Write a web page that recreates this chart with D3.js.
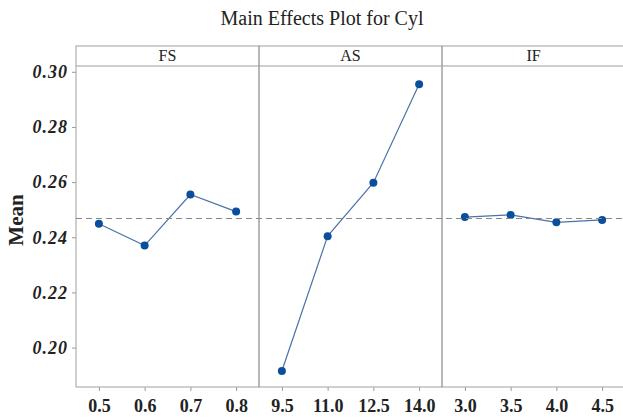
<!DOCTYPE html>
<html>
<head>
<meta charset="utf-8">
<script src="https://cdn.jsdelivr.net/npm/d3@7"></script>
<style>
  body { margin: 0; background: #fff; }
  svg { display: block; }
  svg text { font-family: "Liberation Serif", "DejaVu Serif", serif; }
  .frame { fill: none; stroke: #a0a0a0; stroke-width: 1; }
  .tick_lbl { font-weight: bold; fill: #222; }
</style>
</head>
<body>
<svg id="chart" width="623" height="418"></svg>
<script>

// chart data
let factors = ["FS", "AS", "IF"]
let fs_levels = ["0.5", "0.6", "0.7", "0.8"]
let fs_means = [0.2449, 0.2370, 0.2555, 0.2493]
let as_levels = ["9.5", "11.0", "12.5", "14.0"]
let as_means = [0.1915, 0.2404, 0.2598, 0.2955]
let if_levels = ["3.0", "3.5", "4.0", "4.5"]
let if_means = [0.2473, 0.2481, 0.2454, 0.2463]
let y_ticks = [0.20, 0.22, 0.24, 0.26, 0.28, 0.30]
let grand_mean = 0.2468

let panels = [
    { name: factors[0], levels: fs_levels, means: fs_means },
    { name: factors[1], levels: as_levels, means: as_means },
    { name: factors[2], levels: if_levels, means: if_means }
]

let margin = { left: 76, top: 46, strip: 20, bottom: 31 }
let svgW = 623, svgH = 418
let plotRight = 625

let svg = d3.select('#chart')

let px = d3.scaleBand()
    .domain(factors)
    .range([margin.left, plotRight])
    .paddingInner(0).paddingOuter(0)

let y = d3.scaleLinear()
    .domain([0.1857, 0.3021])
    .range([svgH - margin.bottom, margin.top + margin.strip])

let line_col = "#4a72a8"
let dot_col = "#0b4f9c"

// title
svg.append("text")
    .attr("x", 322).attr("y", 25)
    .attr("text-anchor", "middle")
    .style("font-size", "20px")
    .attr("fill", "#222")
    .text("Main Effects Plot for Cyl")

// y label
svg.append("text")
    .attr("transform", "translate(23," + 220 + ") rotate(-90)")
    .attr("text-anchor", "middle")
    .style("font-size", "21px")
    .style("font-weight", "bold")
    .attr("fill", "#222")
    .text("Mean")

// y axis
let yAxis = svg.append('g')
    .attr('transform', 'translate(' + margin.left + ',0)')
    .call(d3.axisLeft(y).tickValues(y_ticks).tickFormat(d3.format(".2f")).tickSize(4).tickPadding(4))
    .attr("font-family", null).attr("font-size", null)
yAxis.select(".domain").remove()
yAxis.selectAll("line").attr("stroke", "#999")
yAxis.selectAll("text")
    .attr("class", "tick_lbl")
    .style("font-size", "18px")
    .style("font-style", "italic")
    .style("letter-spacing", "1px")

panels.forEach(function (p) {
    let x0 = px(p.name), w = px.bandwidth()
    let x = d3.scalePoint()
        .domain(p.levels)
        .range([x0, x0 + w])
        .padding(0.5)

    let g = svg.append('g')

    // strip
    g.append("text")
        .attr("x", x0 + w / 2).attr("y", margin.top + 15)
        .attr("text-anchor", "middle")
        .style("font-size", "16px")
        .attr("fill", "#222")
        .text(p.name)

    // x axis
    let xAxis = g.append('g')
        .attr('transform', 'translate(0,' + (svgH - margin.bottom) + ')')
        .call(d3.axisBottom(x).tickSize(4).tickPadding(8))
        .attr("font-family", null).attr("font-size", null)
    xAxis.select(".domain").remove()
    xAxis.selectAll("line").attr("stroke", "#999")
    xAxis.selectAll("text")
        .attr("class", "tick_lbl")
        .style("font-size", "18px")

    let lineFunc = d3.line()
        .x(function (d, i) { return x(p.levels[i]) })
        .y(function (d) { return y(d) })

    g.append('path')
        .attr("fill", "none")
        .attr("stroke", line_col)
        .attr("stroke-width", 1.2)
        .attr('d', lineFunc(p.means))

    g.selectAll("circle")
        .data(p.means)
        .enter().append("circle")
        .attr("cx", function (d, i) { return x(p.levels[i]) })
        .attr("cy", function (d) { return y(d) })
        .attr("r", 4)
        .attr("fill", dot_col)

    // panel frame
    g.append("rect")
        .attr("class", "frame")
        .attr("x", x0).attr("y", margin.top)
        .attr("width", w).attr("height", svgH - margin.bottom - margin.top)
    g.append("line")
        .attr("class", "frame")
        .attr("x1", x0).attr("x2", x0 + w)
        .attr("y1", margin.top + margin.strip).attr("y2", margin.top + margin.strip)
})

// reference line at overall mean
svg.append("line")
    .attr("x1", margin.left).attr("x2", plotRight)
    .attr("y1", y(grand_mean)).attr("y2", y(grand_mean))
    .attr("stroke", "#888")
    .attr("stroke-width", 1)
    .attr("stroke-dasharray", "6,4")

</script>
</body>
</html>
